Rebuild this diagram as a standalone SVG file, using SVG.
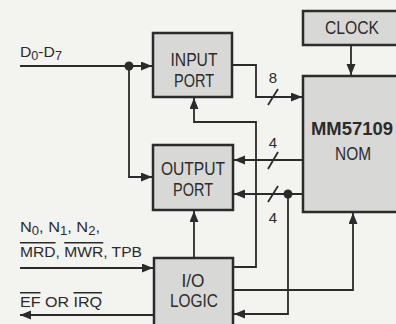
<svg xmlns="http://www.w3.org/2000/svg" width="396" height="324" viewBox="0 0 396 324">
<style>
.box{fill:#d8d8d6;stroke:#2b2b2b;stroke-width:2.5}
.lbl{font-family:"Liberation Sans",Arial,sans-serif;font-size:18px;fill:#2b2b2b;text-anchor:middle}
.sig{font-family:"Liberation Sans",Arial,sans-serif;font-size:15px;fill:#2b2b2b}
.num{font-family:"Liberation Sans",Arial,sans-serif;font-size:15px;fill:#2b2b2b;text-anchor:middle}
.w{fill:none;stroke:#2b2b2b;stroke-width:1.8}
.ov{text-decoration:overline}
</style>
<defs>
<marker id="ah" markerUnits="userSpaceOnUse" markerWidth="12" markerHeight="10" refX="11" refY="4.5" orient="auto">
<path d="M0,0 L11,4.5 L0,9 Z" fill="#2b2b2b"/>
</marker>
</defs>
<rect width="396" height="324" fill="#f3f3f0"/>

<g id="input-port">
<rect class="box" x="153" y="33" width="79" height="64"/>
<text class="lbl" x="194" y="66" textLength="47" lengthAdjust="spacingAndGlyphs">INPUT</text>
<text class="lbl" x="194" y="87" textLength="40" lengthAdjust="spacingAndGlyphs">PORT</text>
</g>
<g id="output-port">
<rect class="box" x="153" y="145" width="80" height="65"/>
<text class="lbl" x="193" y="175" textLength="64" lengthAdjust="spacingAndGlyphs">OUTPUT</text>
<text class="lbl" x="193" y="196" textLength="40" lengthAdjust="spacingAndGlyphs">PORT</text>
</g>
<g id="io-logic">
<rect class="box" x="154" y="258" width="79" height="68"/>
<text class="lbl" x="193" y="287" textLength="23" lengthAdjust="spacingAndGlyphs">I/O</text>
<text class="lbl" x="194" y="307" textLength="48" lengthAdjust="spacingAndGlyphs">LOGIC</text>
</g>
<g id="clock">
<rect class="box" x="303" y="11" width="100" height="34"/>
<text class="lbl" x="352" y="34" textLength="54" lengthAdjust="spacingAndGlyphs">CLOCK</text>
</g>
<g id="mm57109">
<rect class="box" x="303" y="76" width="100" height="136"/>
<text class="lbl" x="352" y="135" font-size="21" font-weight="bold" textLength="82" lengthAdjust="spacingAndGlyphs">MM57109</text>
<text class="lbl" x="353" y="160" textLength="36" lengthAdjust="spacingAndGlyphs">NOM</text>
</g>

<g id="connectors">
<path class="w" d="M20,66 H152" marker-end="url(#ah)"/>
<path class="w" d="M129,66 V177 H152" marker-end="url(#ah)"/>
<circle cx="129" cy="66" r="4.5" fill="#2b2b2b"/>
<path class="w" d="M232,65 H256 V97 H302" marker-end="url(#ah)"/>
<path class="w" d="M351,45 V75" marker-end="url(#ah)"/>
<path class="w" d="M303,160 H234" marker-end="url(#ah)"/>
<path class="w" d="M303,194 H234" marker-end="url(#ah)"/>
<circle cx="288" cy="194" r="4.5" fill="#2b2b2b"/>
<path class="w" d="M288,194 V314 H234" marker-end="url(#ah)"/>
<path class="w" d="M233,267 H256 V122 H194 V98" marker-end="url(#ah)"/>
<path class="w" d="M194,258 V211" marker-end="url(#ah)"/>
<path class="w" d="M233,290 H353 V213" marker-end="url(#ah)"/>
<path class="w" d="M20,268 H153" marker-end="url(#ah)"/>
<path class="w" d="M154,315 H20" marker-end="url(#ah)"/>
<path class="w" d="M268,105 L278,89"/>
<path class="w" d="M268,169 L278,152"/>
<path class="w" d="M268,202 L278,186"/>
<text class="num" x="273" y="83">8</text>
<text class="num" x="273" y="148">4</text>
<text class="num" x="273" y="223">4</text>
</g>

<text class="sig" x="20" y="57" textLength="42" lengthAdjust="spacingAndGlyphs">D<tspan dy="3" font-size="12">0</tspan><tspan dy="-3">-D</tspan><tspan dy="3" font-size="12">7</tspan></text>
<text class="sig" x="20" y="232" textLength="80" lengthAdjust="spacingAndGlyphs">N<tspan dy="3" font-size="12">0</tspan><tspan dy="-3">, N</tspan><tspan dy="3" font-size="12">1</tspan><tspan dy="-3">, N</tspan><tspan dy="3" font-size="12">2</tspan><tspan dy="-3">,</tspan></text>
<text class="sig" x="20" y="257" textLength="122" lengthAdjust="spacingAndGlyphs"><tspan class="ov">MRD</tspan>, <tspan class="ov">MWR</tspan>, TPB</text>
<text class="sig" x="20" y="307" textLength="82" lengthAdjust="spacingAndGlyphs"><tspan class="ov">EF</tspan> OR <tspan class="ov">IRQ</tspan></text>
</svg>
